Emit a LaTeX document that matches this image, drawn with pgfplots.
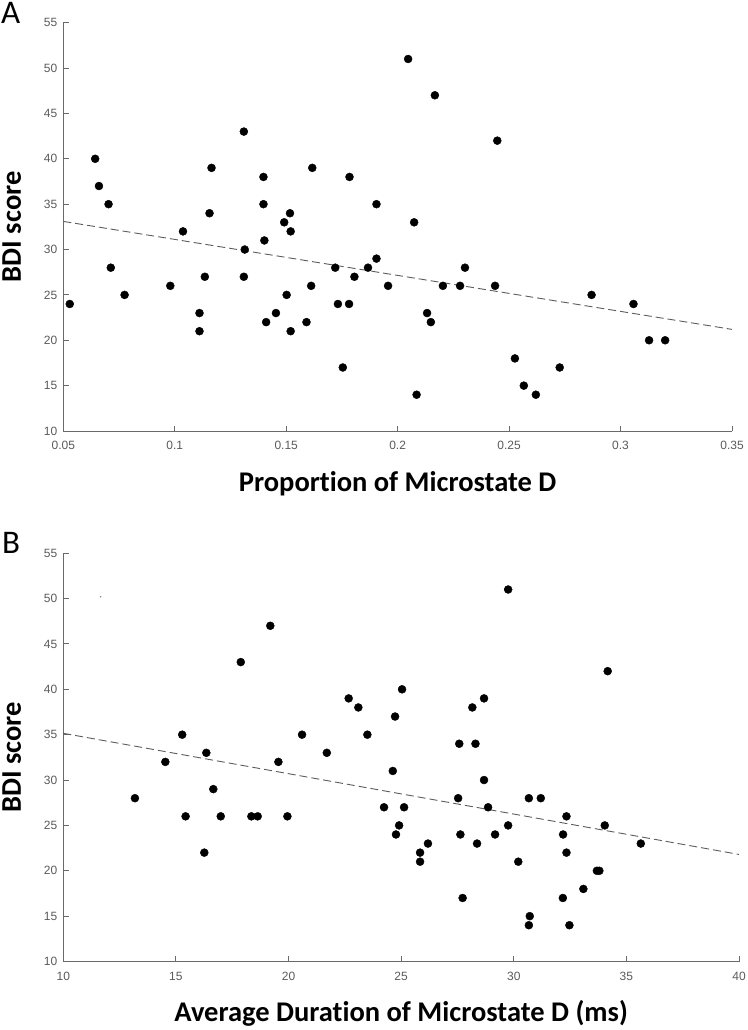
\documentclass[border=0pt]{standalone}
\usepackage{fontspec}
\setmainfont{Liberation Sans}
\newfontfamily\labelfont[Ligatures=NoCommon]{Carlito}
\usepackage{pgfplots}
\pgfplotsset{compat=1.18}
\definecolor{axisgray}{HTML}{6A6A6A}
\definecolor{ticktext}{HTML}{5A5A5A}
\definecolor{fitgray}{HTML}{5C5C5C}

% matlab-like scatter panel
\pgfplotsset{
  panel/.style={
    scale only axis,
    height=408.3pt,
    axis lines=left,
    axis line style={-, axisgray, line width=0.9pt},
    tick align=inside,
    major tick length=5.5pt,
    tick style={axisgray, line width=0.9pt},
    ymin=10, ymax=55,
    ytick={10,15,20,25,30,35,40,45,50,55},
    ticklabel style={font=\fontsize{12}{14}\selectfont, text=ticktext},
    xticklabel style={yshift=-7pt},
    yticklabel style={xshift=-2.5pt},
    /pgf/number format/assume math mode=true,
    label style={font=\labelfont\bfseries\fontsize{28.5}{32}\selectfont},
    clip=false,
  },
  dots/.style={only marks, mark=*, mark size=4pt, black},
  fit/.style={no marks, fitgray, line width=0.9pt, dash pattern=on 8pt off 4pt},
}

\begin{document}
\begin{tikzpicture}
\path[use as bounding box] (0,0) rectangle (747pt,-1030pt);

% ---- panel A
\begin{axis}[panel,
  at={(63.3pt,-431pt)}, anchor=south west,
  width=668.7pt,
  xmin=0.05, xmax=0.35,
  xtick={0.05,0.1,0.15,0.2,0.25,0.3,0.35},
  xticklabel style={/pgf/number format/fixed, /pgf/number format/precision=2},
  xlabel={Proportion of Microstate D},
  xlabel style={at={(axis description cs:0.5,-0.147)}, anchor=base},
  ylabel={BDI score},
  ylabel style={at={(axis description cs:-0.0633,0.5)}, anchor=base},
]
\addplot[dots] coordinates {
  (0.0529,24) (0.0643,40) (0.0660,37) (0.0703,35) (0.0713,28) (0.0775,25)
  (0.0980,26) (0.1037,32) (0.1111,23) (0.1111,21) (0.1135,27) (0.1156,34)
  (0.1165,39) (0.1310,43) (0.1314,30) (0.1310,27) (0.1398,38) (0.1398,35)
  (0.1402,31) (0.1410,22) (0.1454,23) (0.1491,33) (0.1502,25) (0.1517,34)
  (0.1520,32) (0.1520,21) (0.1591,22) (0.1612,26) (0.1617,39) (0.1720,28)
  (0.1732,24) (0.1754,17) (0.1782,24) (0.1784,38) (0.1806,27) (0.1867,28)
  (0.1905,29) (0.1905,35) (0.1957,26) (0.2047,51) (0.2074,33) (0.2085,14)
  (0.2132,23) (0.2149,22) (0.2167,47) (0.2203,26) (0.2280,26) (0.2302,28)
  (0.2437,26) (0.2447,42) (0.2526,18) (0.2566,15) (0.2620,14) (0.2727,17)
  (0.2870,25) (0.3058,24) (0.3128,20) (0.3200,20)
};
\addplot[fit] coordinates {(0.05,33.1) (0.35,21.2)};
\end{axis}

% ---- panel B
\begin{axis}[panel,
  at={(63.3pt,-961.5pt)}, anchor=south west,
  width=675.7pt,
  xmin=10, xmax=40,
  xtick={10,15,20,25,30,35,40},
  xlabel={Average Duration of Microstate D (ms)},
  xlabel style={at={(axis description cs:0.5,-0.148)}, anchor=base},
  ylabel={BDI score},
  ylabel style={at={(axis description cs:-0.0626,0.5)}, anchor=base},
]
\addplot[dots] coordinates {
  (13.18,28) (14.53,32) (15.28,35) (15.43,26) (16.26,22) (16.35,33)
  (16.66,29) (16.99,26) (17.88,43) (18.35,26) (18.63,26) (19.19,47)
  (19.55,32) (19.95,26) (20.60,35) (21.70,33) (22.67,39) (23.10,38)
  (23.50,35) (24.24,27) (24.63,31) (24.73,37) (24.77,24) (24.91,25)
  (25.04,40) (25.13,27) (25.84,22) (25.84,21) (26.19,23) (27.53,28)
  (27.58,34) (27.63,24) (27.73,17) (28.16,38) (28.30,34) (28.37,23)
  (28.68,39) (28.68,30) (28.86,27) (29.17,24) (29.75,51) (29.75,25)
  (30.20,21) (30.67,28) (30.67,14) (30.71,15) (31.20,28) (32.18,17)
  (32.19,24) (32.34,26) (32.34,22) (32.47,14) (33.09,18) (33.69,20)
  (33.80,20) (34.04,25) (34.17,42) (35.64,23)
};
\addplot[only marks, mark=*, mark size=0.5pt, gray] coordinates {(11.66,50.2)};
\addplot[fit] coordinates {(10,35.15) (40,21.8)};
\end{axis}

\node[anchor=base west, inner sep=0pt, font=\labelfont\fontsize{33}{36}\selectfont] at (1pt,-24pt) {A};
\node[anchor=base west, inner sep=0pt, font=\labelfont\fontsize{33}{36}\selectfont] at (2pt,-553pt) {B};
\end{tikzpicture}
\end{document}
